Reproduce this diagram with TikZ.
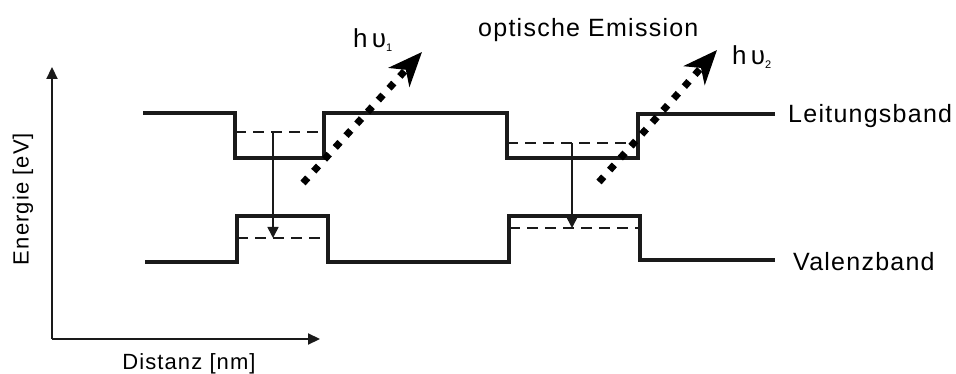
\documentclass[tikz,border=0pt]{standalone}
\usepackage{fontspec}
\setmainfont{Liberation Sans}[LetterSpace=5]
\newfontfamily\photonfont{Liberation Sans}
\usepackage{xcolor}
\definecolor{cBand}{HTML}{1A1A1A}
\usepackage{tikz}
\usetikzlibrary{arrows.meta}
\tikzset{
  band-line/.style={draw=cBand,line width=3.2pt,line join=miter},
  level-line/.style={draw=cBand,line width=2.2pt,dash pattern=on 11pt off 7pt},
  axis-line/.style={draw=cBand,line width=2.2pt,-{Triangle[length=12pt,width=11pt]}},
  arrow-trans/.style={draw=cBand,line width=1.6pt,-{Triangle[length=11pt,width=11pt]}},
  arrow-photon/.style={draw=black,line width=7pt,dash pattern=on 7pt off 9pt,
    -{Stealth[length=34pt,width=28pt,inset=10pt]}},
  label-big/.style={font=\fontsize{25}{30}\selectfont,inner sep=0pt},
  label-axis/.style={font=\fontsize{22}{26}\selectfont,inner sep=0pt},
  label-photon/.style={font=\photonfont\fontsize{26}{30}\selectfont,inner sep=0pt},
}

\begin{document}
\begin{tikzpicture}[x=1pt,y=-1pt]
  \useasboundingbox (0,0) rectangle (956,374);

  % Achsen
  \coordinate (origin) at (52,339);
  \coordinate (e-top) at (52,67);
  \coordinate (d-end) at (320,339);
  \draw[axis-line] (origin) -- (e-top);
  \draw[axis-line] (origin) -- (d-end);
  \node[label-axis,rotate=90] (energie) at (23,199) {Energie [eV]};
  \node[label-axis,anchor=base] (distanz) at (189,369) {Distanz [nm]};

  % Leitungsband / Valenzband
  \draw[band-line] (143,113) -- (235,113) -- (235,158) -- (324,158) -- (324,113)
    -- (507,113) -- (507,158) -- (638,158) -- (638,114) -- (775,114);
  \draw[band-line] (145,262) -- (237,262) -- (237,216) -- (328,216) -- (328,262)
    -- (509,262) -- (509,216) -- (640,216) -- (640,260) -- (775,260);
  \node[label-big,anchor=base west] (lb) at (788,123) {Leitungsband};
  \node[label-big,anchor=base west] (vb) at (793,270) {Valenzband};

  % Energieniveaus in den Quantentoepfen
  \draw[level-line] (235,132) -- (324,132);
  \draw[level-line] (237,238) -- (328,238);
  \draw[level-line] (507,143) -- (638,143);
  \draw[level-line] (509,228) -- (640,228);

  % Uebergaenge
  \coordinate (e1) at (273,132);
  \coordinate (h1) at (273,238);
  \coordinate (e2) at (572,143);
  \coordinate (h2) at (572,228);
  \draw[arrow-trans] (e1) -- (h1);
  \draw[arrow-trans] (e2) -- (h2);

  % Photonen
  \coordinate (p1-start) at (303,183);
  \coordinate (p1-end) at (422,52);
  \coordinate (p2-start) at (599,182);
  \coordinate (p2-end) at (717,50);
  \draw[arrow-photon] (p1-start) -- (p1-end);
  \draw[arrow-photon] (p2-start) -- (p2-end);
  \node[label-photon,anchor=base west] (hv1) at (353,48) {h\,υ\raisebox{-4pt}{\fontsize{11}{12}\selectfont 1}};
  \node[label-photon,anchor=base west] (hv2) at (732,65) {h\,υ\raisebox{-4pt}{\fontsize{11}{12}\selectfont 2}};
  \node[label-big,anchor=base west] (emission) at (478,37) {optische Emission};
\end{tikzpicture}
\end{document}
